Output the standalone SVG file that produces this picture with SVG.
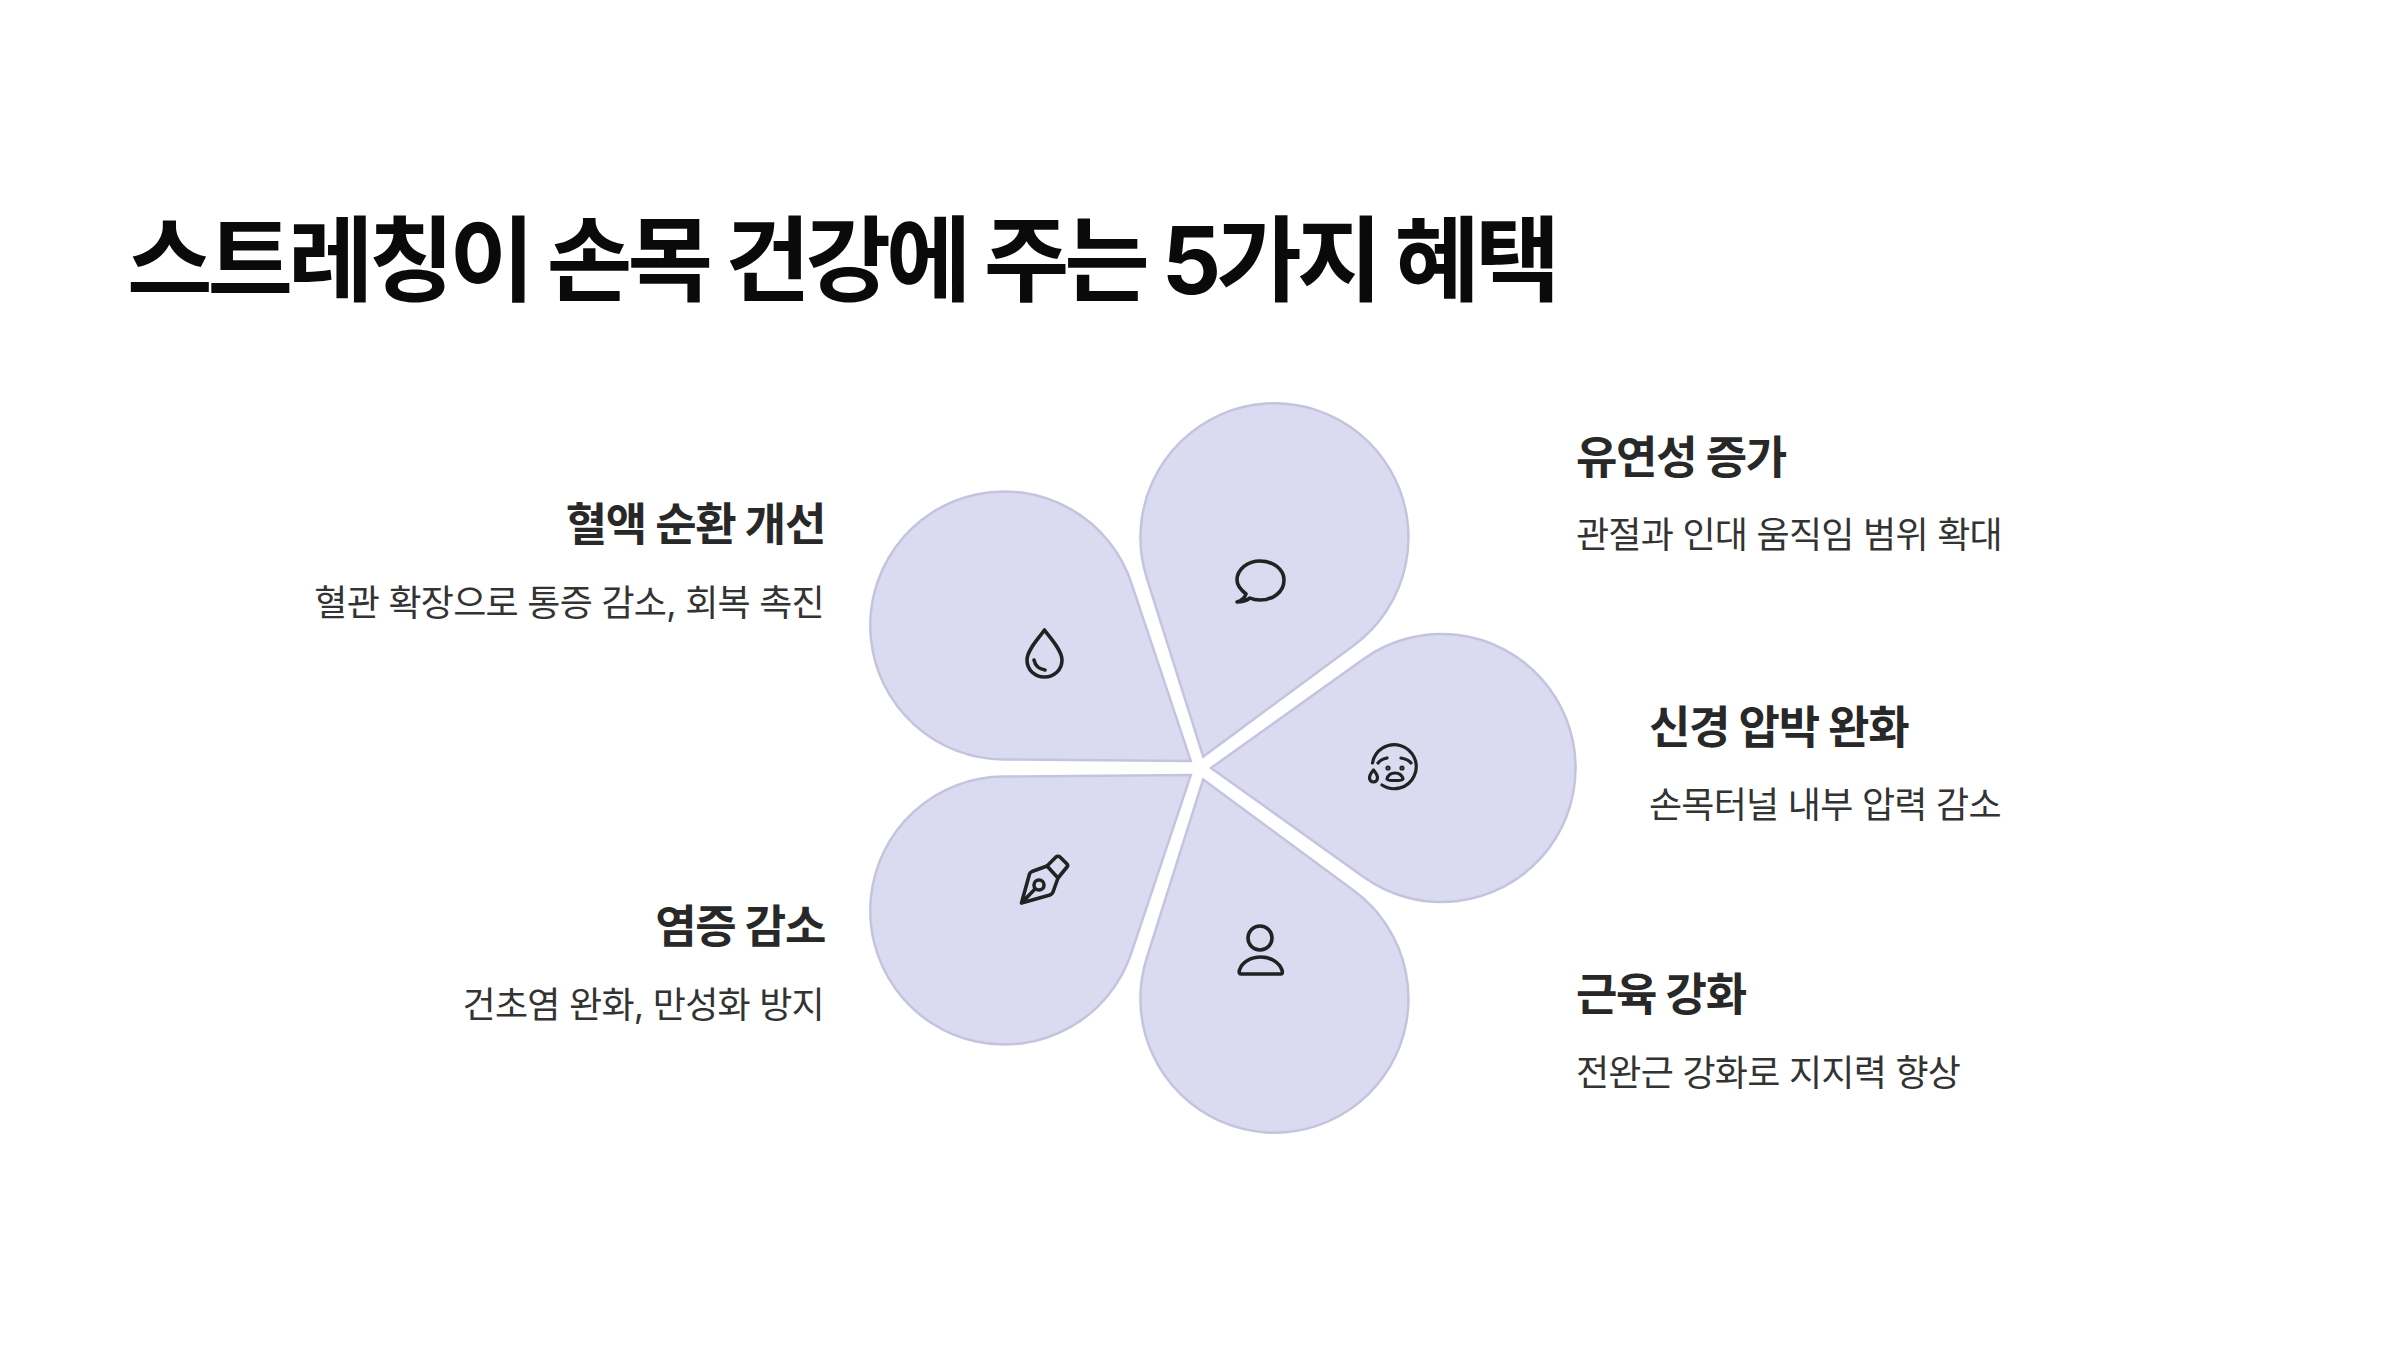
<svg xmlns="http://www.w3.org/2000/svg" width="2400" height="1350" viewBox="0 0 2400 1350">
<style>
text{font-family:"Inter","Noto Sans CJK KR",sans-serif}
.t{font-size:93px;font-weight:700;fill:#0a0a0a;letter-spacing:-5px}
.h{font-size:45px;font-weight:700;fill:#282828;letter-spacing:-1.3px}
.s{font-size:36px;font-weight:400;fill:#333;letter-spacing:-.75px}
.e{text-anchor:end}
.p{fill:#dadaf0;stroke:#c4c4de;stroke-width:2.5}
.i{fill:none;stroke:#222;stroke-width:3.6;stroke-linecap:round;stroke-linejoin:round}
.f{fill:none;stroke:#222;stroke-width:3.2;stroke-linecap:round;stroke-linejoin:round}
</style>
<defs><path id="petal" d="M12 0L164.6 -109A134 134 0 1 1 164.6 109Z"/></defs>
<rect width="2400" height="1350" fill="#fff"/>
<text class="t" x="127" y="294">스트레칭이 손목 건강에 주는 5가지 혜택</text>
<g id="connectors"/>
<g id="n1"><use href="#petal" class="p" transform="translate(1199.5 768) rotate(-72)"/>
<path class="i" d="M1237 602C1243 600 1245 597 1246 594C1241 590 1237 585 1237 580C1237 569 1248 561 1260 561C1273 561 1284 569 1284 580C1284 592 1273 600 1260 600C1256 600 1252 599 1250 598C1246 601 1242 602 1237 602Z"/>
<text class="h" x="1576" y="474">유연성 증가</text><text class="s" x="1576" y="548">관절과 인대 움직임 범위 확대</text></g>
<g id="n2"><use href="#petal" class="p" transform="translate(1199 768)"/>
<path class="f" d="M1372.500 763A22 22 0 1 1 1382 785M1378 763C1380 760 1383 759 1387 758M1411 763C1409 760 1406 759 1401 758"/>
<circle cx="1388" cy="768" r="1" class="f"/><circle cx="1402" cy="768" r="1" class="f"/>
<path class="f" d="M1387 779C1388 775 1391 773 1395 773C1399 773 1402 775 1403 779C1403 781 1387 781 1387 779Z"/>
<path class="f" d="M1373.500 770C1370 774 1369.500 776 1369.500 778A4 4 0 0 0 1377.500 778C1377.500 776 1377 774 1373.500 770Z"/>
<text class="h" x="1649" y="744">신경 압박 완화</text><text class="s" x="1649" y="818">손목터널 내부 압력 감소</text></g>
<g id="n3"><use href="#petal" class="p" transform="translate(1199.5 768) rotate(72)"/>
<circle class="i" cx="1260" cy="938" r="12"/><path class="i" d="M1241 974H1281C1282.500 974 1282.500 972 1282 970C1279 962 1270 957 1261 957C1251 957 1242 962 1239.500 970C1239 972 1239 974 1241 974Z"/>
<text class="h" x="1576" y="1011">근육 강화</text><text class="s" x="1576" y="1086">전완근 강화로 지지력 향상</text></g>
<g id="n4"><use href="#petal" class="p" transform="translate(1200.5 768) rotate(144)"/>
<path class="i" d="M1021.500 903L1029.500 874C1030 872.500 1031 872 1032 871.500L1047 866L1058 878L1053 892C1052.500 893.500 1052 894 1050 895ZM1021.500 903L1035 889"/><circle class="i" cx="1039" cy="885" r="5"/>
<path class="i" d="M1047 866L1056 857C1057 856 1059 856 1060 857L1067 864C1068 865 1068 866 1067 867L1058 878"/>
<text class="h e" x="825" y="943">염증 감소</text><text class="s e" x="824" y="1018">건초염 완화, 만성화 방지</text></g>
<g id="n5"><use href="#petal" class="p" transform="translate(1200.5 768) rotate(216)"/>
<path class="i" d="M1044.500 630C1050 638 1062 650 1062 660C1062 670 1054 677 1044.500 677C1035 677 1027 670 1027 660C1027 650 1039 638 1044.500 630ZM1034 660C1035 665 1039 669 1045 670"/>
<text class="h e" x="825" y="541">혈액 순환 개선</text><text class="s e" x="824" y="616">혈관 확장으로 통증 감소, 회복 촉진</text></g>
</svg>
